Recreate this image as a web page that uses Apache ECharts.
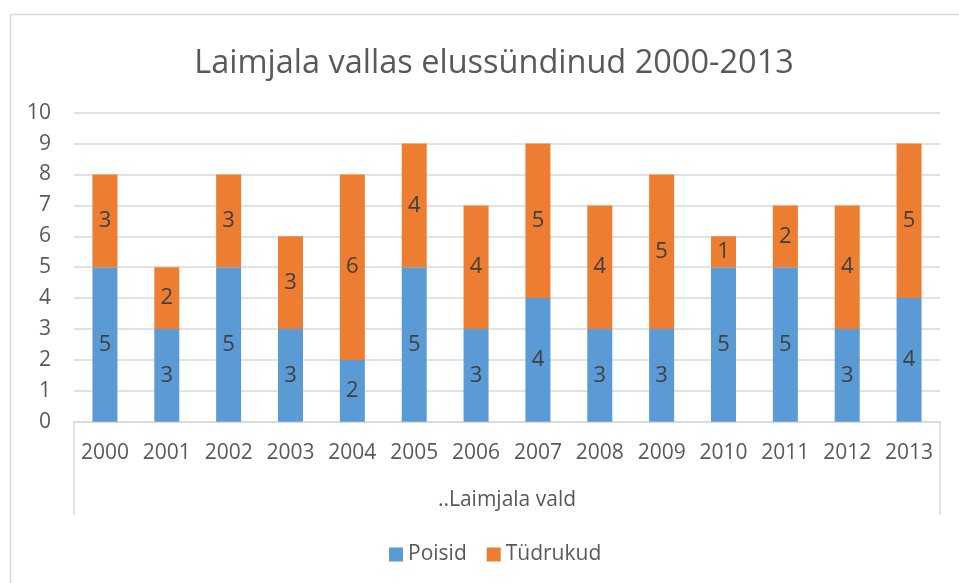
<!DOCTYPE html>
<html>
<head>
<meta charset="utf-8">
<script src="https://cdn.jsdelivr.net/npm/echarts@6/dist/echarts.min.js"></script>
<style>
html,body{margin:0;padding:0;background:#fff;}
#chart{width:959px;height:583px;}
</style>
</head>
<body>
<div id="chart"></div>
<script>
var titleText = 'Laimjala vallas elussündinud 2000-2013';
var years = ['2000','2001','2002','2003','2004','2005','2006','2007','2008','2009','2010','2011','2012','2013'];
var groupLabel = ['..Laimjala vald'];
var poisid = [5,3,5,3,2,5,3,4,3,3,5,5,3,4];
var tydrukud = [3,2,3,3,6,4,4,5,4,5,1,2,4,5];
var seriesNames = ['Poisid','Tüdrukud'];

var FONT = 'Open Sans';
var chart = echarts.init(document.getElementById('chart'), null, {renderer:'canvas'});
chart.setOption({
  animation:false,
  backgroundColor:'#fff',
  textStyle:{fontFamily:FONT},
  title:{text:titleText,left:489,textAlign:'center',top:42,textStyle:{fontFamily:FONT,fontSize:32.5,fontWeight:'normal',color:'#595959'}},
  graphic:[{type:'rect',shape:{x:10.5,y:14.5,width:1000,height:1000},style:{fill:null,stroke:'#d9d9d9',lineWidth:1.5},silent:true}],
  legend:{data:seriesNames,bottom:13,left:384,itemWidth:14,itemHeight:14,itemGap:20,icon:'rect',
    textStyle:{fontFamily:FONT,fontSize:21,color:'#595959',padding:[0,0,0,0]}},
  grid:{left:74,right:19,top:112.7,bottom:161.3,containLabel:false},
  xAxis:[{type:'category',data:years,gridIndex:0,
      axisLine:{show:true,lineStyle:{color:'#d9d9d9',width:1.5}},
      axisTick:{show:false},
      axisLabel:{interval:0,fontFamily:FONT,fontSize:21,color:'#595959',margin:21}},
    {type:'category',data:groupLabel,gridIndex:0,position:'bottom',
      axisLine:{show:false},
      axisTick:{show:true,length:93,lineStyle:{color:'#d9d9d9',width:1.5}},
      axisLabel:{interval:0,fontFamily:FONT,fontSize:21,color:'#595959',margin:68}}],
  yAxis:{type:'value',min:0,max:10,interval:1,
    axisLine:{show:false},axisTick:{show:false},
    splitLine:{lineStyle:{color:'#d9d9d9',width:1.5}},
    axisLabel:{fontFamily:FONT,fontSize:21,color:'#595959',margin:23}},
  series:[
    {name:seriesNames[0],type:'bar',stack:'a',data:poisid,barWidth:25,itemStyle:{color:'#5B9BD5'},
      label:{show:true,position:'inside',fontFamily:FONT,fontSize:22,color:'#404040'}},
    {name:seriesNames[1],type:'bar',stack:'a',data:tydrukud,barWidth:25,itemStyle:{color:'#ED7D31'},
      label:{show:true,position:'inside',fontFamily:FONT,fontSize:22,color:'#404040'}}
  ]
});
</script>
</body>
</html>
